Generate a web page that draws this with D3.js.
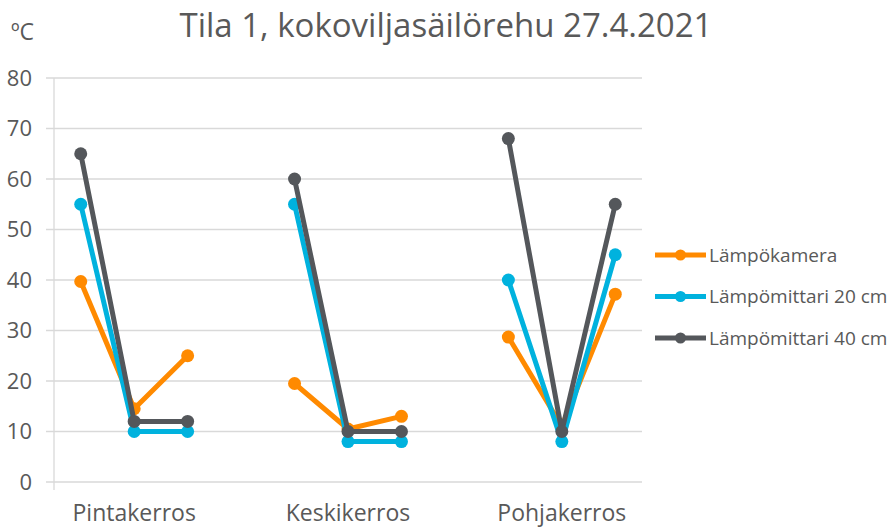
<!DOCTYPE html>
<html>
<head>
<meta charset="utf-8">
<script src="https://cdn.jsdelivr.net/npm/d3@7"></script>
<style>
  body { margin:0; background:#fff; }
  text { font-family: "Open Sans", sans-serif; fill:#595959; }
</style>
</head>
<body>
<svg id="chart"></svg>
<script>
// 11 slots: three per layer, empty slot between layers breaks the lines
var slots = ["a1","a2","a3","g1","b1","b2","b3","g2","c1","c2","c3"];
var groupLabels = ["Pintakerros","Keskikerros","Pohjakerros"];
var groupCenters = ["a2","b2","c2"];
var yTicks = [0,10,20,30,40,50,60,70,80];

var seriesNames = ["Lämpökamera","Lämpömittari 20 cm","Lämpömittari 40 cm"];
var seriesColors = ["#FF8A00","#00B2DE","#54575B"];
var kamera =   [39.7, 14.5, 25, null, 19.5, 10.5, 13, null, 28.7, 11, 37.2];
var mittari20 = [55, 10, 10, null, 55, 8, 8, null, 40, 8, 45];
var mittari40 = [65, 12, 12, null, 60, 10, 10, null, 68, 10, 55];
var seriesValues = [kamera, mittari20, mittari40];

var screen = {width:889, height:527};
var margins = {top:78, left:54, right:247, bottom:45};
var graph = {
    width: screen.width - margins.left - margins.right,
    height: screen.height - margins.top - margins.bottom
};

var svg = d3.select("#chart")
    .attr("width", screen.width)
    .attr("height", screen.height);

var xScale = d3.scaleBand().domain(slots).range([margins.left, margins.left + graph.width]);
var yScale = d3.scaleLinear().domain([0,80]).range([margins.top + graph.height, margins.top]);

// gridlines
svg.append("g")
    .selectAll("line")
    .data(yTicks)
    .enter()
    .append("line")
    .attr("x1", margins.left - 8)
    .attr("x2", margins.left + graph.width)
    .attr("y1", d => yScale(d))
    .attr("y2", d => yScale(d))
    .attr("stroke", "#d9d9d9")
    .attr("stroke-width", 1.3);

svg.append("line")
    .attr("x1", margins.left).attr("x2", margins.left)
    .attr("y1", yScale(80)).attr("y2", yScale(0) + 8)
    .attr("stroke", "#d9d9d9")
    .attr("stroke-width", 1.3);

// y labels
svg.append("g")
    .selectAll("text")
    .data(yTicks)
    .enter()
    .append("text")
    .text(d => d)
    .attr("x", 32)
    .attr("y", d => yScale(d))
    .attr("dy", "0.35em")
    .attr("text-anchor", "end")
    .style("font-size", "22px");

// x labels
svg.append("g")
    .selectAll("text")
    .data(groupLabels)
    .enter()
    .append("text")
    .text(d => d)
    .attr("x", (d,i) => xScale(groupCenters[i]) + xScale.bandwidth()/2)
    .attr("y", 521)
    .attr("text-anchor", "middle")
    .style("font-size", "23px");

// title and unit
svg.append("text")
    .text("Tila 1, kokoviljasäilörehu 27.4.2021")
    .attr("x", 446)
    .attr("y", 37)
    .attr("text-anchor", "middle")
    .style("font-size", "33px");

svg.append("text")
    .text("ºC")
    .attr("x", 11)
    .attr("y", 40)
    .style("font-size", "23px");

var line = d3.line()
    .defined(d => d.v != null)
    .x(d => xScale(d.s) + xScale.bandwidth()/2)
    .y(d => yScale(d.v));

seriesValues.forEach(function(vals, k)
{
    var pts = vals.map((v,i) => ({s: slots[i], v: v}));
    var g = svg.append("g");
    g.append("path")
        .datum(pts)
        .attr("d", line)
        .attr("fill", "none")
        .attr("stroke", seriesColors[k])
        .attr("stroke-width", 5)
        .attr("stroke-linejoin", "round");
    g.selectAll("circle")
        .data(pts.filter(p => p.v != null))
        .enter()
        .append("circle")
        .attr("cx", p => xScale(p.s) + xScale.bandwidth()/2)
        .attr("cy", p => yScale(p.v))
        .attr("r", 6.5)
        .attr("fill", seriesColors[k]);
});

// legend
var legend = svg.append("g");
seriesNames.forEach(function(name, k)
{
    var y = 255 + k*41.5;
    legend.append("line")
        .attr("x1", 655).attr("x2", 706)
        .attr("y1", y).attr("y2", y)
        .attr("stroke", seriesColors[k])
        .attr("stroke-width", 5);
    legend.append("circle")
        .attr("cx", 680.5).attr("cy", y).attr("r", 5.5)
        .attr("fill", seriesColors[k]);
    legend.append("text")
        .text(name)
        .attr("x", 709)
        .attr("y", y)
        .attr("dy", "0.35em")
        .style("font-size", "19px");
});
</script>
</body>
</html>
